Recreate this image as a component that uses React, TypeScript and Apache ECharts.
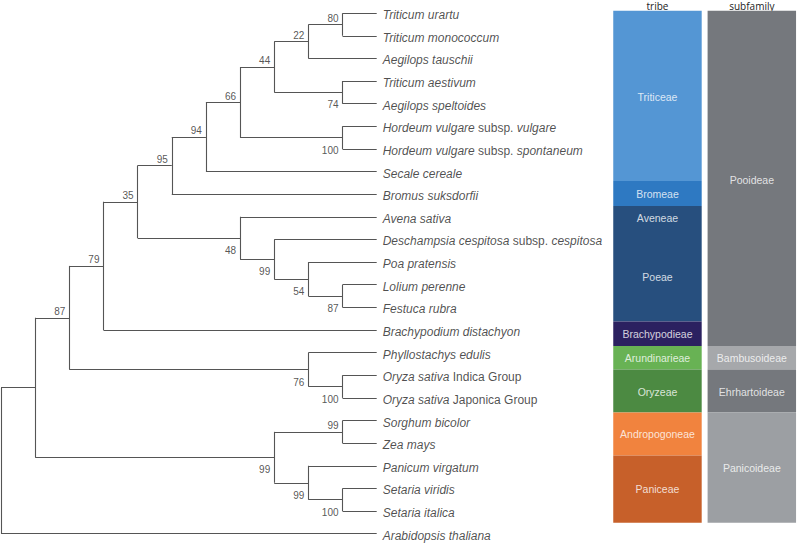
import React, { useEffect, useRef } from 'react';
import * as echarts from 'echarts';

// ---- Leaves (top to bottom, y = leaf index) ----
const leafNames: string[] = [
  '{i|Triticum urartu}',
  '{i|Triticum monococcum}',
  '{i|Aegilops tauschii}',
  '{i|Triticum aestivum}',
  '{i|Aegilops speltoides}',
  '{i|Hordeum vulgare} {n|subsp.} {i|vulgare}',
  '{i|Hordeum vulgare} {n|subsp.} {i|spontaneum}',
  '{i|Secale cereale}',
  '{i|Bromus suksdorfii}',
  '{i|Avena sativa}',
  '{i|Deschampsia cespitosa} {n|subsp.} {i|cespitosa}',
  '{i|Poa pratensis}',
  '{i|Lolium perenne}',
  '{i|Festuca rubra}',
  '{i|Brachypodium distachyon}',
  '{i|Phyllostachys edulis}',
  '{i|Oryza sativa} {n|Indica Group}',
  '{i|Oryza sativa} {n|Japonica Group}',
  '{i|Sorghum bicolor}',
  '{i|Zea mays}',
  '{i|Panicum virgatum}',
  '{i|Setaria viridis}',
  '{i|Setaria italica}',
  '{i|Arabidopsis thaliana}',
];
const leafDepth = 11;

// ---- Clades ----
const cladeIds = ['root', 'grass', 'bep', 'pooid', 'c35', 'c95', 'c94', 'c66', 'c44', 'c22', 'c80', 'c74', 'hord', 'c48', 'desch', 'c54', 'lolfes', 'bamehr', 'oryza', 'panic', 'sorgzea', 'panset', 'setaria'];
const cladeDepth = [0, 1, 2, 3, 4, 5, 6, 7, 8, 9, 10, 10, 10, 7, 8, 9, 10, 9, 10, 8, 10, 9, 10];
const cladeSupport = ['', '', '87', '79', '35', '95', '94', '66', '44', '22', '80', '74', '100', '48', '99', '54', '87', '76', '100', '99', '99', '99', '100'];
const cladeChildren: (string | number)[][] = [
  ['grass', 23],
  ['bep', 'panic'],
  ['pooid', 'bamehr'],
  ['c35', 14],
  ['c95', 'c48'],
  ['c94', 8],
  ['c66', 7],
  ['c44', 'hord'],
  ['c22', 'c74'],
  ['c80', 2],
  [0, 1],
  [3, 4],
  [5, 6],
  [9, 'desch'],
  [10, 'c54'],
  [11, 'lolfes'],
  [12, 13],
  [15, 'oryza'],
  [16, 17],
  ['sorgzea', 'panset'],
  [18, 19],
  [20, 'setaria'],
  [21, 22],
];

// ---- Tribe / subfamily blocks (in leaf-index units) ----
const tribeStart = [-0.11, 7.42, 8.52, 13.62, 14.71, 15.75, 17.64, 19.55];
const tribeEnd = [7.42, 8.52, 13.62, 14.71, 15.75, 17.64, 19.55, 22.52];
const tribeColors = ['#5496d4', '#2e79c2', '#274f7e', '#2b2160', '#68b254', '#4c8a42', '#f1833e', '#c7602a'];
const tribeLabels = ['Triticeae', 'Bromeae', 'Aveneae', 'Poeae', 'Brachypodieae', 'Arundinarieae', 'Oryzeae', 'Andropogoneae', 'Paniceae'];
const tribeLabelPos = [3.72, 8.0, 9.07, 11.64, 14.17, 15.23, 16.72, 18.61, 21.03];

const subStart = [-0.11, 14.71, 15.75, 17.64];
const subEnd = [14.71, 15.75, 17.64, 22.52];
const subColors = ['#75787d', '#a6a8ab', '#75787d', '#9c9fa3'];
const subLabels = ['Pooideae', 'Bambusoideae', 'Ehrhartoideae', 'Panicoideae'];
const subLabelPos = [7.39, 15.22, 16.72, 20.11];

const columnNames = ['tribe', 'subfamily'];

function buildTree() {
  const index = new Map<string, number>();
  cladeIds.forEach((id, i) => index.set(id, i));
  const yCache = new Map<string, number>();
  const yOf = (c: string | number): number => {
    if (typeof c === 'number') return c;
    if (yCache.has(c)) return yCache.get(c)!;
    const ch = cladeChildren[index.get(c)!];
    const ys = ch.map(yOf);
    const y = (Math.min(...ys) + Math.max(...ys)) / 2;
    yCache.set(c, y);
    return y;
  };
  const depthOf = (c: string | number): number => (typeof c === 'number' ? leafDepth : cladeDepth[index.get(c)!]);
  const segments: number[][][] = [];
  const upper: any[] = [];
  const lower: any[] = [];
  cladeIds.forEach((id, i) => {
    const d = cladeDepth[i];
    const ch = cladeChildren[i];
    const ys = ch.map(yOf);
    segments.push([[d, Math.min(...ys)], [d, Math.max(...ys)]]);
    ch.forEach((c, k) => {
      segments.push([[d, ys[k]], [depthOf(c), ys[k]]]);
      if (typeof c === 'string') {
        const j = index.get(c)!;
        if (cladeSupport[j]) {
          const item = { value: [cladeDepth[j], yOf(c)], support: cladeSupport[j] };
          (k === 0 ? upper : lower).push(item);
        }
      }
    });
  });
  return { segments, upper, lower };
}

const GRID_TOP = 1.84;
const GRID_H = 545.22;

export default function App() {
  const ref = useRef<HTMLDivElement>(null);
  useEffect(() => {
    if (!ref.current) return;
    const chart = echarts.init(ref.current, undefined, { renderer: 'svg' });
    const { segments, upper, lower } = buildTree();
    const font = "'Liberation Sans', Arial, sans-serif";
    const nodeLabel = (dy: number) => ({
      show: true,
      position: 'left',
      distance: 4,
      offset: [0, dy],
      formatter: (p: any) => p.data.support,
      fontSize: 10,
      fontFamily: font,
      color: '#2a2a2a',
    });
    const blockRender = (colors: string[]) => (params: any, api: any) => {
      const a = api.coord([api.value(0), api.value(1)]);
      const b = api.coord([api.value(0), api.value(2)]);
      const bw = api.size([1, 0])[0] * 0.9375;
      return {
        type: 'rect',
        shape: { x: a[0] - bw / 2, y: a[1], width: bw, height: b[1] - a[1] },
        style: { fill: colors[params.dataIndex] },
      };
    };
    const blockLabel = {
      show: true,
      position: 'inside',
      formatter: (p: any) => p.data.name,
      color: '#ffffff',
      textBorderWidth: 0,
      fontSize: 10.5,
      fontFamily: font,
    };
    chart.setOption({
      animation: false,
      backgroundColor: '#ffffff',
      grid: [
        { left: 1, width: 375.7, top: GRID_TOP, height: GRID_H },
        { left: 610.3, width: 192, top: GRID_TOP, height: GRID_H },
      ],
      xAxis: [
        { type: 'value', gridIndex: 0, min: 0, max: 11, show: false },
        {
          type: 'category',
          gridIndex: 1,
          data: columnNames,
          position: 'top',
          offset: -(10.7 - GRID_TOP),
          axisLine: { show: false },
          axisTick: { show: false },
          splitLine: { show: false },
          axisLabel: { show: true, margin: 0, fontSize: 10, fontFamily: "'Open Sans', sans-serif", color: '#222' },
        },
      ],
      yAxis: [
        { type: 'value', gridIndex: 0, min: -0.5, max: 23.5, inverse: true, show: false },
        { type: 'value', gridIndex: 1, min: -0.5, max: 23.5, inverse: true, show: false },
      ],
      series: [
        {
          type: 'lines',
          coordinateSystem: 'cartesian2d',
          xAxisIndex: 0,
          yAxisIndex: 0,
          silent: true,
          lineStyle: { color: '#555555', width: 1.1, opacity: 1 },
          data: segments.map((s) => ({ coords: s })),
        },
        {
          type: 'scatter',
          xAxisIndex: 0,
          yAxisIndex: 0,
          symbolSize: 0,
          itemStyle: { color: 'transparent' },
          silent: true,
          data: leafNames.map((n, i) => ({ value: [leafDepth, i], name: n })),
          label: {
            show: true,
            position: 'right',
            distance: 6,
            offset: [0, 2],
            formatter: (p: any) => leafNames[p.dataIndex],
            fontSize: 12,
            fontFamily: font,
            color: '#1f1f1f',
            rich: {
              i: { fontStyle: 'italic', fontSize: 12, fontFamily: font, color: '#1f1f1f' },
              n: { fontStyle: 'normal', fontSize: 12, fontFamily: font, color: '#1f1f1f' },
            },
          },
        },
        {
          type: 'scatter',
          xAxisIndex: 0,
          yAxisIndex: 0,
          symbolSize: 0,
          itemStyle: { color: 'transparent' },
          silent: true,
          data: upper,
          label: nodeLabel(-6),
        },
        {
          type: 'scatter',
          xAxisIndex: 0,
          yAxisIndex: 0,
          symbolSize: 0,
          itemStyle: { color: 'transparent' },
          silent: true,
          data: lower,
          label: nodeLabel(12.5),
        },
        {
          type: 'custom',
          xAxisIndex: 1,
          yAxisIndex: 1,
          silent: true,
          renderItem: blockRender(tribeColors),
          data: tribeStart.map((s, i) => [0, s, tribeEnd[i]]),
        },
        {
          type: 'custom',
          xAxisIndex: 1,
          yAxisIndex: 1,
          silent: true,
          renderItem: blockRender(subColors),
          data: subStart.map((s, i) => [1, s, subEnd[i]]),
        },
        {
          type: 'scatter',
          xAxisIndex: 1,
          yAxisIndex: 1,
          symbolSize: 0,
          z: 5,
          itemStyle: { color: 'transparent' },
          silent: true,
          data: [
            ...tribeLabels.map((t, i) => ({ value: [0, tribeLabelPos[i]], name: t })),
            ...subLabels.map((t, i) => ({ value: [1, subLabelPos[i]], name: t })),
          ],
          label: blockLabel,
        },
      ],
    });
    return () => chart.dispose();
  }, []);
  return <div ref={ref} style={{ position: 'fixed', left: 0, top: 0, width: 799, height: 545 }} />;
}
